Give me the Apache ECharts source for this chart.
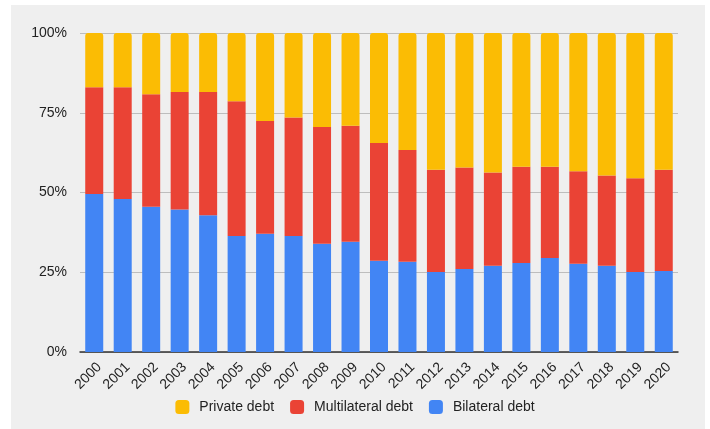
<!DOCTYPE html>
<html>
<head>
<meta charset="utf-8">
<script src="https://cdn.jsdelivr.net/npm/echarts@6/dist/echarts.min.js"></script>
<style>
  html, body { margin: 0; padding: 0; background: #ffffff; }
  #bg { position: absolute; left: 11px; top: 5px; width: 694px; height: 424px; background: #efefef; }
  #chart { position: absolute; left: 0; top: 0; width: 710px; height: 429px; }
</style>
</head>
<body>
<div id="bg"></div>
<div id="chart"></div>
<script>
var years = ['2000', '2001', '2002', '2003', '2004', '2005', '2006', '2007', '2008', '2009', '2010',
    '2011', '2012', '2013', '2014', '2015', '2016', '2017', '2018', '2019', '2020'];
// shares in percent
var bilateral = [49.5, 48.0, 45.5, 44.7, 42.9, 36.4, 37.1, 36.4, 33.9, 34.6, 28.6,
    28.3, 25.1, 26.0, 27.0, 27.9, 29.5, 27.7, 27.0, 25.1, 25.4];
var multilateral = [33.5, 35.0, 35.3, 36.8, 38.6, 42.2, 35.3, 37.1, 36.6, 36.3, 36.9,
    35.0, 32.0, 31.8, 29.3, 30.2, 28.6, 29.0, 28.3, 29.4, 31.7];
var privateDebt = [17.0, 17.0, 19.2, 18.5, 18.5, 21.4, 27.6, 26.5, 29.5, 29.1, 34.5,
    36.7, 42.9, 42.2, 43.7, 41.9, 41.9, 43.3, 44.7, 45.5, 42.9];
var yTicks = ['0%', '25%', '50%', '75%', '100%'];

var chartDom = document.getElementById('chart');
var myChart = echarts.init(chartDom);
var option;

var font = 'Arial, "Liberation Sans", sans-serif';

option = {
    textStyle: { fontFamily: font },
    animation: false,
    grid: {
        left: 80,
        right: 32,
        top: 33,
        bottom: 77
    },
    legend: {
        bottom: 10,
        left: 'center',
        itemWidth: 14,
        itemHeight: 14,
        itemGap: 16,
        icon: 'roundRect',
        textStyle: { color: '#222', fontSize: 14, fontFamily: font, padding: [0, 0, 0, 5] },
        data: ['Private debt', 'Multilateral debt', 'Bilateral debt']
    },
    xAxis: {
        type: 'category',
        data: years,
        axisTick: { show: false },
        axisLine: { lineStyle: { color: '#333', width: 1.5 } },
        axisLabel: {
            rotate: 45,
            color: '#222',
            fontSize: 14,
            interval: 0,
            margin: 8,
            verticalAlign: 'top'
        }
    },
    yAxis: {
        type: 'value',
        min: 0,
        max: 100,
        interval: 25,
        axisLine: { show: false },
        axisTick: { show: false },
        splitLine: { lineStyle: { color: '#bdbdbd' } },
        axisLabel: {
            color: '#222',
            fontSize: 14,
            margin: 13,
            formatter: function (v) { return yTicks[v / 25]; }
        }
    },
    series: [
        {
            name: 'Bilateral debt',
            type: 'bar',
            stack: 'debt',
            barWidth: 18,
            data: bilateral,
            itemStyle: { color: '#4285f4' }
        },
        {
            name: 'Multilateral debt',
            type: 'bar',
            stack: 'debt',
            data: multilateral,
            itemStyle: { color: '#ea4335' }
        },
        {
            name: 'Private debt',
            type: 'bar',
            stack: 'debt',
            data: privateDebt,
            itemStyle: { color: '#fbbc04', borderRadius: [3, 3, 0, 0] }
        }
    ]
};

option && myChart.setOption(option);
</script>
</body>
</html>
